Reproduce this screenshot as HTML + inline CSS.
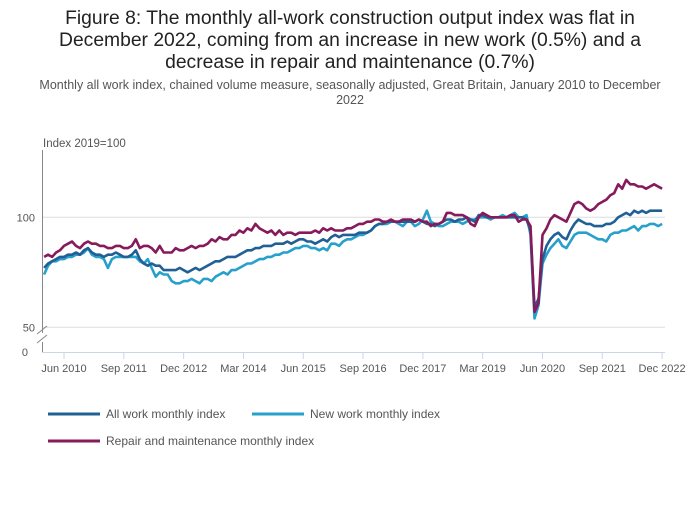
<!DOCTYPE html>
<html><head><meta charset="utf-8"><style>
body{margin:0;background:#fff;font-family:"Liberation Sans",sans-serif;}
svg text{font-family:"Liberation Sans",sans-serif;}
</style></head><body>
<svg id="chart" width="700" height="502">
<text x="350" y="24" text-anchor="middle" font-size="19.3" fill="#222">Figure 8: The monthly all-work construction output index was flat in</text>
<text x="350" y="46" text-anchor="middle" font-size="19.3" fill="#222">December 2022, coming from an increase in new work (0.5%) and a</text>
<text x="350" y="68" text-anchor="middle" font-size="19.3" fill="#222">decrease in repair and maintenance (0.7%)</text>
<text x="350" y="89" text-anchor="middle" font-size="12.5" fill="#555">Monthly all work index, chained volume measure, seasonally adjusted, Great Britain, January 2010 to December</text>
<text x="350" y="104" text-anchor="middle" font-size="12.5" fill="#555">2022</text>
<text x="43" y="147" font-size="11.5" fill="#555">Index 2019=100</text>
<g id="grid"></g><g id="series"></g><g id="axes"></g>
<g>
<line x1="48" y1="414" x2="100" y2="414" stroke="#206095" stroke-width="3"/>
<text x="106" y="418" font-size="12" fill="#555">All work monthly index</text>
<line x1="252" y1="414" x2="304" y2="414" stroke="#27a0cc" stroke-width="3"/>
<text x="310" y="418" font-size="12" fill="#555">New work monthly index</text>
<line x1="48" y1="441" x2="100" y2="441" stroke="#871a5b" stroke-width="3"/>
<text x="106" y="445" font-size="12" fill="#555">Repair and maintenance monthly index</text>
</g>
</svg>
<script>
const allWork=[77,79,80,81,82,82,83,83,84,83,85,86,
84,83,83,82,83,83,84,83,82,82,83,85,
81,79,78,79,78,78,76,76,76,76,77,76,
75,76,77,76,77,78,79,80,80,81,82,82,
82,83,84,85,85,86,86,87,87,87,88,88,
88,89,88,89,90,90,89,89,88,89,90,89,
91,92,91,92,92,92,92,93,93,93,94,96,
97,97,98,98,98,98,98,98,98,98,99,98,
97,97,96,97,98,99,99,98,99,99,100,99,
98,101,101,100,100,100,100,100,100,100,100,100,
100,99,94,59,63,81,87,90,92,93,91,90,
94,97,99,98,97,97,96,96,96,97,97,98,
100,101,102,101,103,102,103,102,103,103,103,103];
const newWork=[74,78,80,80,81,81,82,82,83,83,84,86,
83,82,82,81,77,81,82,82,82,82,82,82,
80,79,81,77,73,75,74,74,71,70,70,71,
71,72,71,70,72,72,71,73,74,75,74,76,
76,77,78,79,79,80,81,81,82,82,83,83,
84,84,85,86,86,87,87,86,86,85,86,85,
88,88,87,89,90,90,91,92,92,93,94,96,
97,97,97,98,98,97,96,98,98,96,97,99,
103,98,97,96,96,97,98,98,98,97,98,99,
99,100,100,100,99,100,100,101,100,101,102,100,
100,101,92,54,60,79,83,86,88,90,87,86,
89,92,93,93,93,92,91,90,90,89,92,93,
93,94,94,95,96,94,96,96,97,97,96,97];
const repair=[82,83,82,84,85,87,88,89,87,86,88,89,
88,88,87,87,86,86,87,87,86,86,87,90,
86,87,87,86,84,87,84,84,84,86,85,85,
86,87,86,87,87,88,90,89,91,90,90,92,
92,94,93,95,94,97,95,94,93,94,92,94,
92,93,93,92,93,93,93,93,94,93,95,94,
95,94,94,94,95,95,96,97,97,98,98,99,
99,98,98,99,98,98,99,99,99,98,99,98,
98,96,97,97,98,102,102,101,101,101,100,97,
96,100,102,101,100,100,100,100,100,101,101,98,
99,99,96,57,61,92,95,99,101,100,99,98,
102,106,107,106,104,103,104,106,107,108,110,111,
115,113,117,115,115,114,114,113,114,115,114,113];
const tickLabels=["Jun 2010","Sep 2011","Dec 2012","Mar 2014","Jun 2015","Sep 2016","Dec 2017","Mar 2019","Jun 2020","Sep 2021","Dec 2022"];
const tickMonths=[5,20,35,50,65,80,95,110,125,140,155];
const yTicks=[50,100];

const NS="http://www.w3.org/2000/svg";
const x=i=>44.1+i*3.987;
const y=v=>217.3-(v-100)*2.2;
function mk(tag,attrs,parent){const e=document.createElementNS(NS,tag);for(const k in attrs)e.setAttribute(k,attrs[k]);parent.appendChild(e);return e;}
const grid=document.getElementById('grid'),axes=document.getElementById('axes'),ser=document.getElementById('series');
yTicks.forEach(v=>{
 const l=mk('line',{x1:42,x2:665,y1:y(v),y2:y(v),stroke:'#ddd','stroke-width':1},grid);
 
 
 const t=mk('text',{x:35,y:y(v)+4,'text-anchor':'end','font-size':11,fill:'#555'},axes);
 t.textContent=v;
 
 
});
const z=mk('text',{x:28,y:356,'text-anchor':'end','font-size':11,fill:'#555'},axes);z.textContent='0';


const ya=mk('path',{d:'M42.5 150 V333 M42.5 342 V352',stroke:'#888',fill:'none'},axes);


const br=mk('path',{d:'M37 334 L47 326 M37 343 L47 335',stroke:'#888',fill:'none'},axes);


const xa=mk('line',{x1:42,x2:665,y1:352.5,y2:352.5,stroke:'#c9d6e8'},axes);


tickMonths.forEach((m,i)=>{
 const tl=mk('line',{x1:x(m),x2:x(m),y1:352,y2:359,stroke:'#c9d6e8'},axes);
 
 
 const t=mk('text',{x:x(m),y:372,'text-anchor':'middle','font-size':11,fill:'#555'},axes);
 t.textContent=tickLabels[i];
 
 
});
[[newWork,'#27a0cc','new-work-line'],[allWork,'#206095','all-work-line'],[repair,'#871a5b','repair-line']].forEach(([d,c,n])=>{
 const p=mk('polyline',{points:d.map((v,i)=>x(i).toFixed(1)+','+y(v).toFixed(1)).join(' '),fill:'none',stroke:c,'stroke-width':2.6,'stroke-linejoin':'round'},ser);
 
 
});
</script>
</body></html>
